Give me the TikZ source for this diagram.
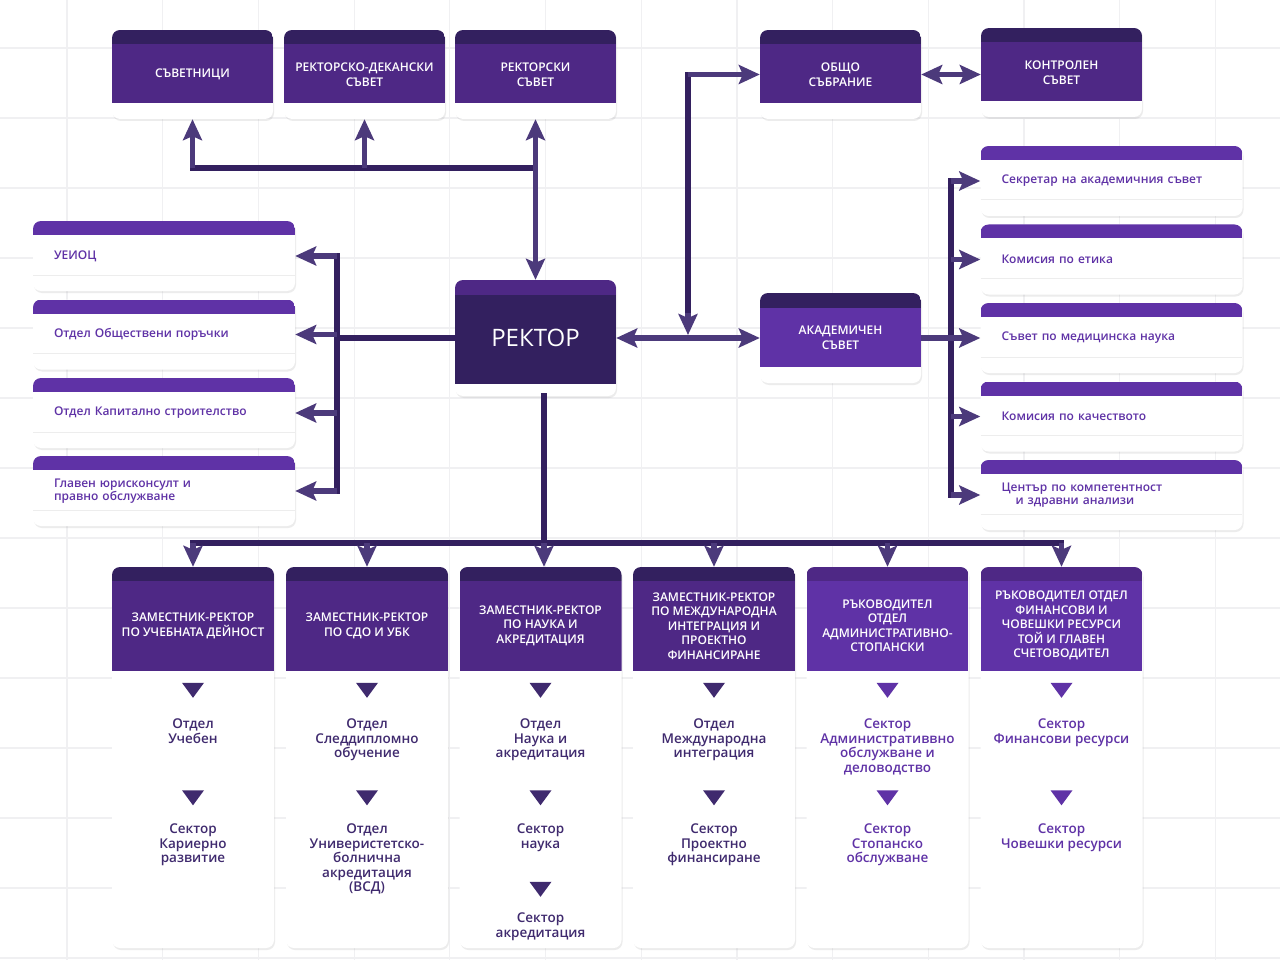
\documentclass[tikz,border=0pt]{standalone}
\usepackage{fontspec}
\setmainfont{Open Sans}[BoldFont={Open Sans Semibold}]
\usetikzlibrary{arrows.meta, shadows}

\definecolor{navy}{HTML}{33205F}
\definecolor{violet}{HTML}{4E2885}
\definecolor{lilac}{HTML}{5F32A6}
\definecolor{arrowc}{HTML}{4C3A7B}
\definecolor{ink}{HTML}{3F2A6E}
\definecolor{gridc}{HTML}{F0F0F2}

\tikzset{
  card/.style={rectangle, rounded corners=8pt, fill=white, inner sep=0pt,
    drop shadow={shadow xshift=1pt, shadow yshift=-2pt, opacity=0.15}},
  bands/.style n args={4}{path picture={
      \fill[#1, sharp corners] (path picture bounding box.north west) rectangle ([yshift=-#2]path picture bounding box.north east);
      \fill[#3, sharp corners] ([yshift=-#2]path picture bounding box.north west) rectangle ([yshift=-#4]path picture bounding box.north east);}},
  headbox/.style={card, minimum width=161pt, minimum height=89pt, bands={navy}{14pt}{violet}{73pt},
    text=white, align=center, font=\bfseries\fontsize{12}{14.5}\selectfont},
  listbox/.style={card, minimum height=70pt, text width=220pt, inner xsep=21pt, align=left,
    text=lilac, font=\bfseries\fontsize{12}{13.5}\selectfont,
    path picture={
      \fill[lilac, sharp corners] (path picture bounding box.north west) rectangle ([yshift=-14pt]path picture bounding box.north east);
      \draw[black!7, line width=1pt, sharp corners] ([yshift=16pt]path picture bounding box.south west) -- ([yshift=16pt]path picture bounding box.south east);}},
  colbox/.style={card, minimum width=162pt, minimum height=381pt},
  coltitle/.style={text=white, align=center, font=\bfseries\fontsize{12}{14.5}\selectfont},
  unitname/.style={align=center, anchor=north, inner sep=0pt, font=\bfseries\fontsize{13.5}{14.5}\selectfont},
  route/.style={draw=navy, line width=5.5pt, line cap=rect},
  arr/.style={draw=arrowc, line width=5.5pt, ->},
  gridline/.style={draw=gridc, line width=1.2pt},
}

\begin{document}
\begin{tikzpicture}[x=1pt, y=-1pt, >={Stealth[length=21pt, width=19pt, inset=4pt]}]
    \fill[white] (0,0) rectangle (1280,960);
    \useasboundingbox (0,0) rectangle (1280,960);
    \foreach \gx in {0,...,12}
        \draw[gridline] (67+95.7*\gx,0) -- (67+95.7*\gx,960);
    \foreach \gy in {0,...,13}
        \draw[gridline] (0,48+70*\gy) -- (1280,48+70*\gy);

    \node[headbox] (Savetnici) at (192.5,74.5) {СЪВЕТНИЦИ};
    \node[headbox] (RektDekan) at (364.5,74.5) {РЕКТОРСКО-ДЕКАНСКИ\\СЪВЕТ};
    \node[headbox] (Rektorski) at (535.5,74.5) {РЕКТОРСКИ\\СЪВЕТ};
    \node[headbox] (Obshto) at (840.5,74.5) {ОБЩО\\СЪБРАНИЕ};
    \node[headbox] (Kontrolen) at (1061.5,72.5) {КОНТРОЛЕН\\СЪВЕТ};

    \node[card, minimum width=161pt, minimum height=116pt, bands={violet}{15pt}{navy}{104pt},
        text=white, font=\fontsize{24}{27}\selectfont] (Rektor) at (535.5,338) {РЕКТОР};
    \node[card, minimum width=161pt, minimum height=90pt, bands={navy}{15pt}{lilac}{74pt},
        text=white, align=center, font=\bfseries\fontsize{12}{14.5}\selectfont] (Akademichen) at (840.5,338) {АКАДЕМИЧЕН\\СЪВЕТ};

    \node[listbox] (Ueioc) at (164,256) {УЕИОЦ};
    \node[listbox] (Porachki) at (164,334.5) {Отдел Обществени поръчки};
    \node[listbox] (Stroitelstvo) at (164,413) {Отдел Капитално строителство};
    \node[listbox] (Yurist) at (164,491) {Главен юрисконсулт и\\правно обслужване};

    \node[listbox] (Sekretar) at (1111.5,181) {Секретар на академичния съвет};
    \node[listbox] (Etika) at (1111.5,259.5) {Комисия по етика};
    \node[listbox] (SavetMed) at (1111.5,338) {Съвет по медицинска наука};
    \node[listbox] (Kachestvo) at (1111.5,416.5) {Комисия по качеството};
    \node[listbox] (Centar) at (1111.5,495) {Център по компетентност\\\hspace*{14pt}и здравни анализи};

    \foreach \n/\x/\hd/\bd in {1/193/navy/violet, 2/367/navy/violet, 3/540.5/navy/violet,
                               4/714/navy/violet, 5/887.5/violet/lilac, 6/1061.5/violet/lilac}
        \node[colbox, bands={\hd}{14pt}{\bd}{104pt}] (VR\n) at (\x,757.5) {};

    \node[coltitle] at ([yshift=-59pt]VR1.north) {ЗАМЕСТНИК-РЕКТОР\\ПО УЧЕБНАТА ДЕЙНОСТ};
    \node[coltitle] at ([yshift=-59pt]VR2.north) {ЗАМЕСТНИК-РЕКТОР\\ПО СДО И УБК};
    \node[coltitle] at ([yshift=-59pt]VR3.north) {ЗАМЕСТНИК-РЕКТОР\\ПО НАУКА И\\АКРЕДИТАЦИЯ};
    \node[coltitle] at ([yshift=-59pt]VR4.north) {ЗАМЕСТНИК-РЕКТОР\\ПО МЕЖДУНАРОДНА\\ИНТЕГРАЦИЯ И\\ПРОЕКТНО\\ФИНАНСИРАНЕ};
    \node[coltitle] at ([yshift=-59pt]VR5.north) {РЪКОВОДИТЕЛ\\ОТДЕЛ\\АДМИНИСТРАТИВНО-\\СТОПАНСКИ};
    \node[coltitle] at ([yshift=-59pt]VR6.north) {РЪКОВОДИТЕЛ ОТДЕЛ\\ФИНАНСОВИ И\\ЧОВЕШКИ РЕСУРСИ\\ТОЙ И ГЛАВЕН\\СЧЕТОВОДИТЕЛ};

    \foreach \n/\c in {1/ink, 2/ink, 3/ink, 4/ink, 5/lilac, 6/lilac} {
        \fill[\c] ([shift={(-11,116)}]VR\n.north) -- ++(22,0) -- ++(-11,15) -- cycle;
        \fill[\c] ([shift={(-11,223.5)}]VR\n.north) -- ++(22,0) -- ++(-11,15) -- cycle;
    }
    \fill[ink] ([shift={(-11,315)}]VR3.north) -- ++(22,0) -- ++(-11,15) -- cycle;

    \node[unitname, text=ink] at ([yshift=-152pt]VR1.north) {Отдел\\Учебен};
    \node[unitname, text=ink] at ([yshift=-257pt]VR1.north) {Сектор\\Кариерно\\развитие};
    \node[unitname, text=ink] at ([yshift=-152pt]VR2.north) {Отдел\\Следдипломно\\обучение};
    \node[unitname, text=ink] at ([yshift=-257pt]VR2.north) {Отдел\\Универистетско-\\болнична\\акредитация\\(ВСД)};
    \node[unitname, text=ink] at ([yshift=-152pt]VR3.north) {Отдел\\Наука и\\акредитация};
    \node[unitname, text=ink] at ([yshift=-257pt]VR3.north) {Сектор\\наука};
    \node[unitname, text=ink] at ([yshift=-346pt]VR3.north) {Сектор\\акредитация};
    \node[unitname, text=ink] at ([yshift=-152pt]VR4.north) {Отдел\\Международна\\интеграция};
    \node[unitname, text=ink] at ([yshift=-257pt]VR4.north) {Сектор\\Проектно\\финансиране};
    \node[unitname, text=lilac] at ([yshift=-152pt]VR5.north) {Сектор\\Административвно\\обслужване и\\деловодство};
    \node[unitname, text=lilac] at ([yshift=-257pt]VR5.north) {Сектор\\Стопанско\\обслужване};
    \node[unitname, text=lilac] at ([yshift=-152pt]VR6.north) {Сектор\\Финансови ресурси};
    \node[unitname, text=lilac] at ([yshift=-257pt]VR6.north) {Сектор\\Човешки ресурси};

    \coordinate (jTop) at (535.5,168);
    \coordinate (jMid) at (688,338);
    \coordinate (jLeft) at (337,338);
    \coordinate (jRight) at (951,338);
    \coordinate (jBus) at (544,543);

    \draw[route] (Savetnici.south |- jTop) -- (jTop);
    \draw[arr] (Savetnici.south |- jTop) -- (Savetnici.south);
    \draw[arr] (RektDekan.south |- jTop) -- (RektDekan.south);
    \draw[arr, <->] (Rektorski.south) -- (Rektor.north);

    \draw[arr, <->] (Rektor.east) -- (Akademichen.west);
    \draw[route] ([yshift=25pt]jMid) -- (jMid |- Obshto.west);
    \draw[arr] ([yshift=25pt]jMid) -- ([yshift=3pt]jMid);
    \draw[arr] (jMid |- Obshto.west) -- (Obshto.west);
    \draw[arr, <->] (Obshto.east) -- (Obshto.east -| Kontrolen.west);

    \draw[route] (Rektor.west) -- (jLeft);
    \draw[route] (jLeft |- Ueioc.east) -- (jLeft |- Yurist.east);
    \foreach \b in {Ueioc, Porachki, Stroitelstvo, Yurist}
        \draw[arr] (jLeft |- \b.east) -- (\b.east);

    \draw[route] (jRight |- Sekretar.west) -- (jRight |- Centar.west);
    \foreach \b in {Sekretar, Etika, Kachestvo, Centar}
        \draw[arr] (jRight |- \b.west) -- (\b.west);
    \draw[arr] (Akademichen.east) -- (SavetMed.west);

    \draw[route] (jBus |- Rektor.south) -- (jBus);
    \draw[route] (VR1.north |- jBus) -- (VR6.north |- jBus);
    \foreach \n in {1,2,4,5,6}
        \draw[arr] (VR\n.north |- jBus) -- (VR\n.north);
    \draw[arr] (jBus) -- (jBus |- VR3.north);
\end{tikzpicture}
\end{document}
